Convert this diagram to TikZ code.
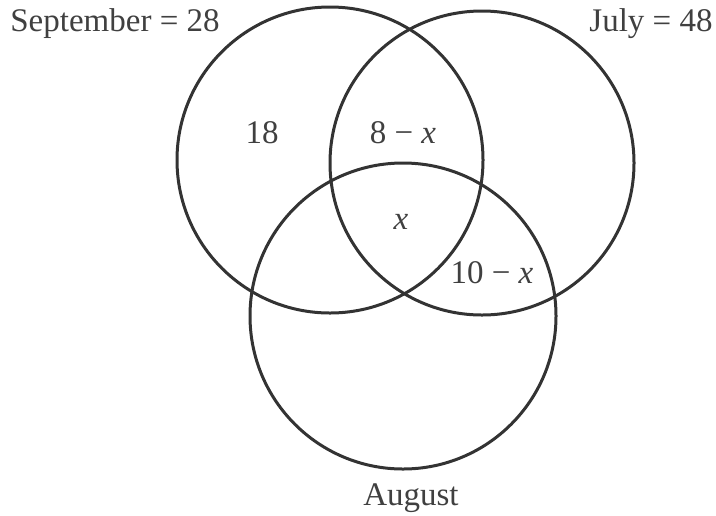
\documentclass[tikz,border=0pt]{standalone}
\usepackage{fontspec}
\setmainfont{Liberation Serif}
\begin{document}
\begin{tikzpicture}[
    x=0.5pt, y=-0.5pt,
    every node/.style={font=\fontsize{16.5}{19}\selectfont, text=black!75},
    ring/.style={draw=black!80, line width=1.5pt}
]
\useasboundingbox (0,0) rectangle (716,515);
% centres of the three months
\coordinate (sep) at (330,160);
\coordinate (jul) at (482,163);
\coordinate (aug) at (403,316);
\draw[ring] (sep) circle[radius=153];
\draw[ring] (jul) circle[radius=152];
\draw[ring] (aug) circle[radius=153];
% labels
\node (sepname) at (115,24) {September = 28};
\node (julname) at (651,24) {July = 48};
\node (augname) at (411,498) {August};
\node (only) at (262,133) {18};
\node (sepjul) at (403,133) {8 − \textit{x}};
\node (all) at (401,222) {\textit{x}};
\node (julaug) at (492,273) {10 − \textit{x}};
\end{tikzpicture}
\end{document}
